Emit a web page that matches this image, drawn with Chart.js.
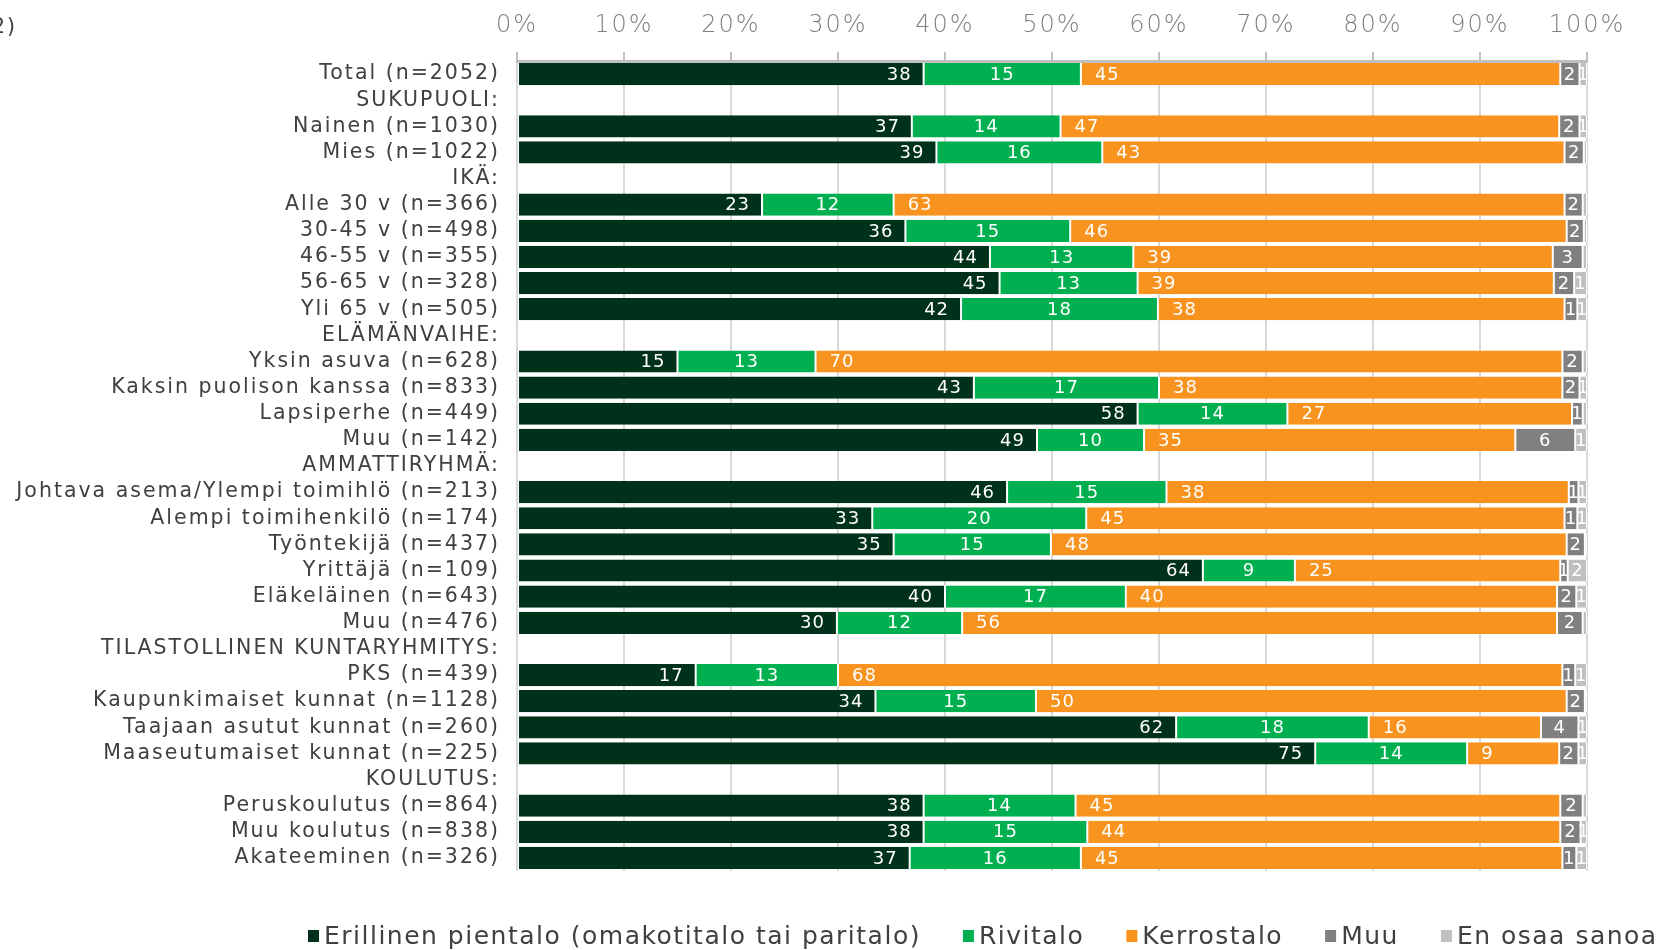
<!DOCTYPE html>
<html>
<head>
<meta charset="utf-8">
<script src="https://cdn.jsdelivr.net/npm/chart.js@4/dist/chart.umd.min.js"></script>
<style>
  html, body { margin: 0; padding: 0; background: #fff; }
  #wrap { width: 1678px; height: 950px; position: relative; }
</style>
</head>
<body>
<div id="wrap"><canvas id="chart"></canvas></div>
<script>
// rows of the chart, headers have no values (null)
const categories = [
  'Total (n=2052)', 'SUKUPUOLI:', 'Nainen (n=1030)', 'Mies (n=1022)',
  'IKÄ:', 'Alle 30 v (n=366)', '30-45 v (n=498)', '46-55 v (n=355)', '56-65 v (n=328)', 'Yli 65 v (n=505)',
  'ELÄMÄNVAIHE:', 'Yksin asuva (n=628)', 'Kaksin puolison kanssa (n=833)', 'Lapsiperhe (n=449)', 'Muu (n=142)',
  'AMMATTIRYHMÄ:', 'Johtava asema/Ylempi toimihlö (n=213)', 'Alempi toimihenkilö (n=174)', 'Työntekijä (n=437)',
  'Yrittäjä (n=109)', 'Eläkeläinen (n=643)', 'Muu (n=476)',
  'TILASTOLLINEN KUNTARYHMITYS:', 'PKS (n=439)', 'Kaupunkimaiset kunnat (n=1128)', 'Taajaan asutut kunnat (n=260)',
  'Maaseutumaiset kunnat (n=225)',
  'KOULUTUS:', 'Peruskoulutus (n=864)', 'Muu koulutus (n=838)', 'Akateeminen (n=326)'
];

const seriesNames = ['Erillinen pientalo (omakotitalo tai paritalo)', 'Rivitalo', 'Kerrostalo', 'Muu', 'En osaa sanoa'];
const seriesColors = ['#00311A', '#00B050', '#F7931E', '#808080', '#BFBFBF'];

const pientalo = [38.0, null, 36.9, 39.2, null, 22.9, 36.3, 44.2, 45.1, 41.5, null, 15.0, 42.7, 58.0, 48.6,
  null, 45.8, 33.2, 35.2, 64.1, 40.0, 29.9, null, 16.7, 33.5, 61.6, 74.6, null, 38.0, 38.0, 36.7];
const rivitalo = [14.7, null, 13.9, 15.5, null, 12.3, 15.4, 13.4, 12.9, 18.4, null, 12.9, 17.3, 14.0, 10.0,
  null, 14.9, 20.0, 14.7, 8.6, 16.9, 11.7, null, 13.3, 15.0, 18.0, 14.2, null, 14.2, 15.3, 16.0];
const kerrostalo = [44.8, null, 46.6, 43.2, null, 62.7, 46.4, 39.2, 38.9, 38.0, null, 69.8, 37.7, 26.6, 34.7,
  null, 37.6, 44.7, 48.2, 24.8, 40.3, 55.6, null, 67.7, 49.6, 16.1, 8.6, null, 45.3, 44.2, 45.0];
const muu = [1.8, null, 1.9, 1.8, null, 1.7, 1.6, 2.8, 1.9, 1.2, null, 1.9, 1.6, 1.0, 5.6,
  null, 0.9, 1.2, 1.7, 0.7, 1.8, 2.4, null, 1.2, 1.7, 3.5, 1.8, null, 2.1, 1.9, 1.3];
const eos = [0.7, null, 0.7, 0.3, null, 0.4, 0.3, 0.4, 1.2, 0.9, null, 0.4, 0.7, 0.4, 1.1,
  null, 0.8, 0.9, 0.2, 1.8, 1.0, 0.4, null, 1.1, 0.2, 0.8, 0.8, null, 0.4, 0.6, 1.0];

const seriesValues = [pientalo, rivitalo, kerrostalo, muu, eos];

const FONT = '"DejaVu Sans", Verdana, sans-serif';
const TEXT = '#404040';

// labels: first series inside end, third inside base, others centered
const segmentLabels = {
  id: 'segmentLabels',
  afterDatasetsDraw(chart) {
    const ctx = chart.ctx;
    ctx.save();
    ctx.font = '18px ' + FONT;
    ctx.letterSpacing = '1px';
    ctx.fillStyle = '#fff';
    ctx.textBaseline = 'middle';
    chart.data.datasets.forEach((ds, i) => {
      chart.getDatasetMeta(i).data.forEach((bar, j) => {
        const v = ds.data[j];
        if (v == null || Math.round(v) === 0) return;
        const p = bar.getProps(['x', 'y', 'base'], true);
        let tx;
        if (i === 0) {
          ctx.textAlign = 'right';
          tx = p.x - 12;
        } else if (i === 2) {
          ctx.textAlign = 'left';
          tx = p.base + 14;
        } else {
          ctx.textAlign = 'center';
          tx = (p.x + p.base) / 2;
        }
        ctx.fillText(String(Math.round(v)), tx, p.y + 1);
      });
    });
    ctx.restore();
  }
};

const textSpacing = {
  id: 'textSpacing',
  beforeDraw(chart) {
    chart.ctx.letterSpacing = '2px';
  },
  afterDraw(chart) {
    const ctx = chart.ctx;
    ctx.save();
    // cut-off title piece in the corner
    ctx.font = '20.5px ' + FONT;
    ctx.letterSpacing = '2px';
    ctx.fillStyle = TEXT;
    ctx.textAlign = 'right';
    ctx.textBaseline = 'middle';
    ctx.fillText('2)', 17, 28);

    // legend
    ctx.font = '25px ' + FONT;
    ctx.letterSpacing = '1.5px';
    ctx.textAlign = 'left';
    let x = 308;
    const y = 936;
    seriesNames.forEach((name, i) => {
      ctx.fillStyle = seriesColors[i];
      ctx.fillRect(x, y - 6, 11, 12);
      x += 16;
      ctx.fillStyle = TEXT;
      ctx.fillText(name, x, y + 1);
      x += ctx.measureText(name).width + 42;
    });
    ctx.restore();
    ctx.letterSpacing = '0px';
  }
};

new Chart(document.getElementById('chart'), {
  type: 'bar',
  data: {
    labels: categories,
    datasets: seriesValues.map((vals, i) => ({
      label: seriesNames[i],
      data: vals,
      backgroundColor: seriesColors[i],
      borderColor: '#fff',
      borderWidth: { left: 1, right: 1, top: 0, bottom: 0 },
      borderSkipped: false,
      categoryPercentage: 1,
      barPercentage: 0.85
    }))
  },
  plugins: [segmentLabels, textSpacing],
  options: {
    indexAxis: 'y',
    responsive: true,
    maintainAspectRatio: false,
    animation: false,
    layout: { padding: { top: 0, right: 91, bottom: 79, left: 0 } },
    plugins: {
      legend: { display: false },
      tooltip: { enabled: false }
    },
    scales: {
      x: {
        position: 'top',
        stacked: true,
        min: 0,
        max: 100,
        afterFit: (scale) => { scale.height = 61; },
        ticks: {
          stepSize: 10,
          padding: 12,
          color: '#7f7f7f',
          font: { family: FONT, size: 24, weight: '200' },
          callback: (v) => v + '%'
        },
        grid: {
          color: '#d9d9d9',
          lineWidth: 2,
          drawTicks: true,
          tickLength: 9,
          tickColor: '#bfbfbf',
          tickWidth: 2
        },
        border: { display: true, color: '#bfbfbf', width: 3 }
      },
      y: {
        stacked: true,
        afterFit: (scale) => { scale.width = 517; },
        ticks: {
          autoSkip: false,
          padding: 17,
          color: TEXT,
          font: { family: FONT, size: 20.5 }
        },
        grid: { display: false, drawTicks: false },
        border: { display: false }
      }
    }
  }
});
</script>
</body>
</html>
